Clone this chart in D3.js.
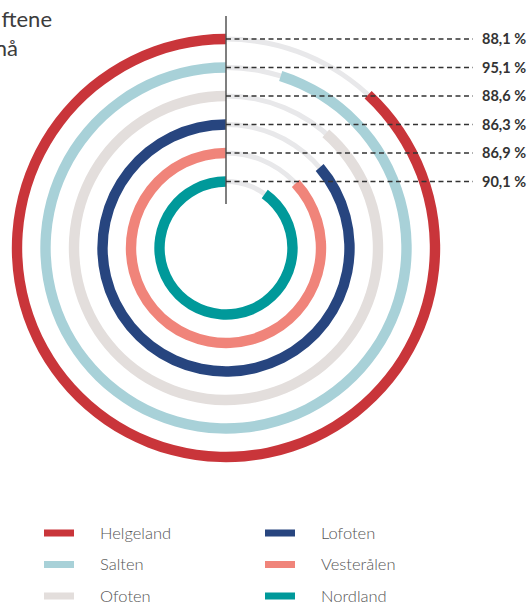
<!DOCTYPE html>
<html>
<head>
<meta charset="utf-8">
<script src="https://cdn.jsdelivr.net/npm/d3@7"></script>
<style>
body { margin: 0; background: #fff; }
svg { display: block; }
.label { font-family: Lato, Roboto, sans-serif; font-weight: bold; font-size: 14.5px; fill: #333; }
.legend text { font-family: Lato, "Open Sans", sans-serif; font-weight: 300; font-size: 16.5px; fill: #555; }
.title { font-family: Lato, "Open Sans", sans-serif; font-weight: 400; font-size: 22px; fill: #3c3c3c; }
</style>
</head>
<body>
<div id="chart"></div>
<script>
var regions = ["Helgeland", "Salten", "Ofoten", "Lofoten", "Vesterålen", "Nordland"];
var values = [88.1, 95.1, 88.6, 86.3, 86.9, 90.1];
var colors = ["#c9353a", "#a8d1d8", "#e3dedc", "#27457f", "#f0847a", "#00999a"];
var titleLines = ["ftene", "nå"];

var width = 528, height = 606;
var cx = 226, cy = 248;

var svg = d3.select("#chart").append("svg")
  .attr("width", width)
  .attr("height", height);

// ring radius, outer ring first
var r = d3.scaleBand()
  .domain(regions)
  .range([237.5, 66.5]);

var angle = d3.scaleLinear()
  .domain([0, 100])
  .range([0, 2 * Math.PI]);

var g = svg.append("g")
  .attr("transform", "translate(" + cx + "," + cy + ")");

var data = regions.map(function (d, i) {
  return { name: d, value: values[i], color: colors[i] };
});

// grey track
var track = d3.arc()
  .innerRadius(function (d) { return r(d.name) - 2.5; })
  .outerRadius(function (d) { return r(d.name) + 2.5; })
  .startAngle(0)
  .endAngle(2 * Math.PI);

g.selectAll(".track")
  .data(data)
  .enter().append("path")
  .attr("class", "track")
  .attr("d", track)
  .attr("fill", "#e8e8ea");

// coloured arc, ends at the top going counter-clockwise
var bar = d3.arc()
  .innerRadius(function (d) { return r(d.name) - 5.2; })
  .outerRadius(function (d) { return r(d.name) + 5.2; })
  .startAngle(function (d) { return angle(100 - d.value); })
  .endAngle(2 * Math.PI);

g.selectAll(".bar")
  .data(data)
  .enter().append("path")
  .attr("class", "bar")
  .attr("d", bar)
  .attr("fill", function (d) { return d.color; });

// vertical axis line
g.append("line")
  .attr("x1", 0).attr("x2", 0)
  .attr("y1", -232).attr("y2", -44)
  .attr("stroke", "#555")
  .attr("stroke-width", 1.5);

// dashed leader lines
g.selectAll(".lead")
  .data(data)
  .enter().append("line")
  .attr("class", "lead")
  .attr("x1", 0)
  .attr("x2", 247)
  .attr("y1", function (d) { return -r(d.name); })
  .attr("y2", function (d) { return -r(d.name); })
  .attr("stroke", "#333")
  .attr("stroke-width", 1.3)
  .attr("stroke-dasharray", "5,3.5");

g.selectAll(".label")
  .data(data)
  .enter().append("text")
  .attr("class", "label")
  .attr("x", 256)
  .attr("y", function (d) { return -r(d.name); })
  .attr("dy", "0.36em")
  .text(function (d) { return d3.format(".1f")(d.value).replace(".", ",") + " %"; });

// title fragments (cut off at left edge)
svg.selectAll(".title")
  .data(titleLines)
  .enter().append("text")
  .attr("class", "title")
  .attr("text-anchor", "end")
  .attr("x", function (d, i) { return i === 0 ? 52 : 18; })
  .attr("y", function (d, i) { return 27 + i * 29; })
  .text(function (d) { return d; });

// legend
var legend = svg.selectAll(".legend")
  .data(data)
  .enter().append("g")
  .attr("class", "legend")
  .attr("transform", function (d, i) {
    var col = Math.floor(i / 3), row = i % 3;
    return "translate(" + (44 + col * 221) + "," + (533 + row * 31.5) + ")";
  });

legend.append("rect")
  .attr("x", 0)
  .attr("y", -3.5)
  .attr("width", 30)
  .attr("height", 7)
  .attr("fill", function (d) { return d.color; });

legend.append("text")
  .attr("x", 56)
  .attr("y", 0)
  .attr("dy", "0.36em")
  .text(function (d) { return d.name; });
</script>
</body>
</html>
